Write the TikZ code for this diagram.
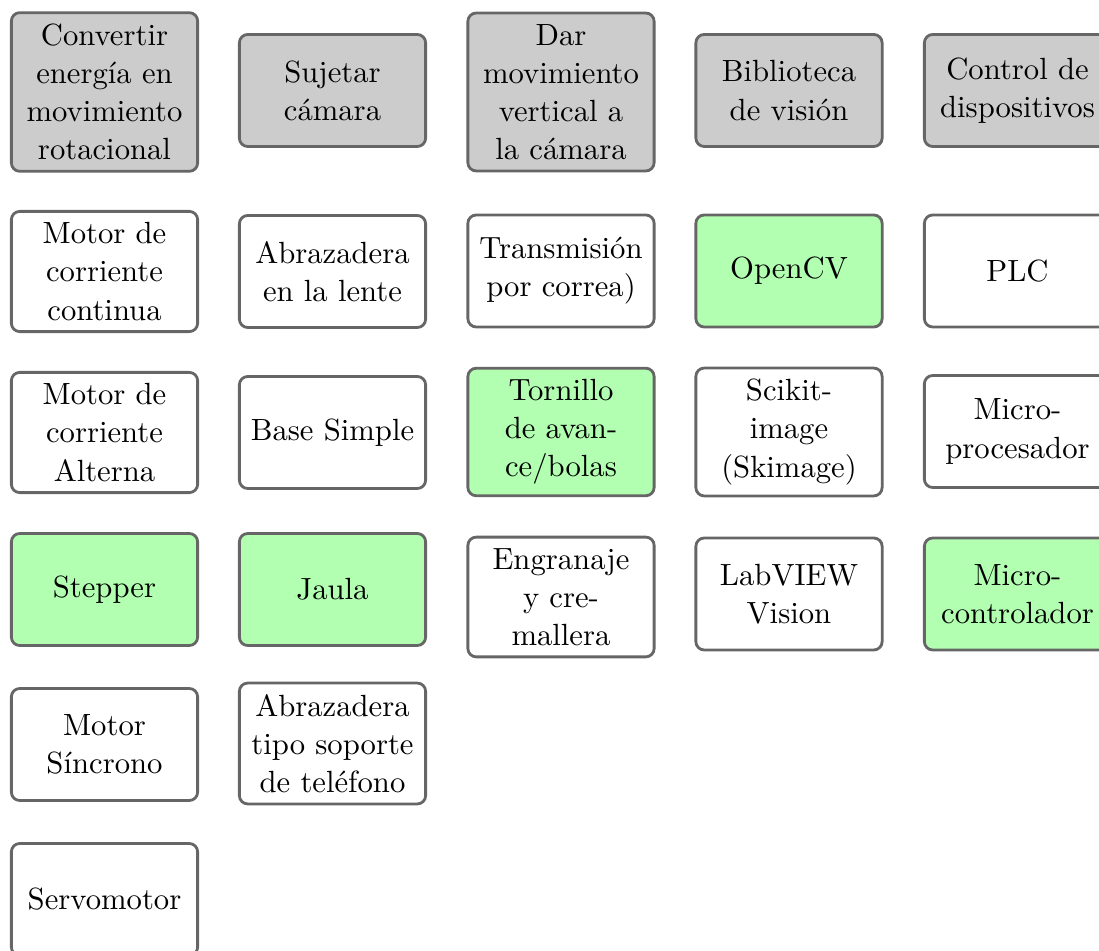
\documentclass[tikz,border=0pt]{standalone}
\usepackage{fontspec}
\begin{document}
\begin{tikzpicture}[x=0.357pt, y=-0.357pt,
  box/.style={draw=black!60, line width=1pt, rounded corners=3pt,
    text width=59pt, align=center, inner xsep=3.75pt, inner ysep=4pt,
    minimum width=66.5pt, minimum height=40pt,
    font=\fontsize{10.95pt}{13.6pt}\selectfont},
  headbox/.style={box, fill=black!20},
  pickbox/.style={box, fill=green!30},
  optbox/.style={box, fill=white}]
\useasboundingbox (0,0) rectangle (1099,951);

% column 1: motors
\node[headbox] (c1h) at (104.5,92)    {Convertir\\energía en\\movimiento\\rotacional};
\node[optbox]  (c1a) at (104.5,271.5) {Motor de\\corriente\\continua};
\node[optbox]  (c1b) at (104.5,432.5) {Motor de\\corriente\\Alterna};
\node[pickbox] (c1c) at (104.5,589.5) {Stepper};
\node[optbox]  (c1d) at (104.5,744.5) {Motor\\Síncrono};
\node[optbox]  (c1e) at (104.5,899.5) {Servomotor};

% column 2: camera holder
\node[headbox] (c2h) at (332.5,90.5)  {Sujetar\\cámara};
\node[optbox]  (c2a) at (332.5,271.5) {Abrazadera\\en la lente};
\node[optbox]  (c2b) at (332.5,432.5) {Base Simple};
\node[pickbox] (c2c) at (332.5,589.5) {Jaula};
\node[optbox]  (c2d) at (332.5,743.5) {Abrazadera\\tipo soporte\\de teléfono};

% column 3: vertical motion
\node[headbox] (c3h) at (561,92)    {Dar\\movimiento\\vertical a\\la cámara};
\node[optbox]  (c3a) at (561,271)   {Transmisión\\por correa)};
\node[pickbox] (c3b) at (561,432)   {Tornillo\\de avan-\\ce/bolas};
\node[optbox]  (c3c) at (561,597)   {Engranaje\\y cre-\\mallera};

% column 4: vision library
\node[headbox] (c4h) at (789,90.5)  {Biblioteca\\de visión};
\node[pickbox] (c4a) at (789,271)   {OpenCV};
\node[optbox]  (c4b) at (789,432)   {Scikit-\\image\\(Skimage)};
\node[optbox]  (c4c) at (789,594)   {LabVIEW\\Vision};

% column 5: device control
\node[headbox] (c5h) at (1017.5,90.5)  {Control de\\dispositivos};
\node[optbox]  (c5a) at (1017.5,271)   {PLC};
\node[optbox]  (c5b) at (1017.5,431.5) {Micro-\\procesador};
\node[pickbox] (c5c) at (1017.5,594)   {Micro-\\controlador};
\end{tikzpicture}
\end{document}
